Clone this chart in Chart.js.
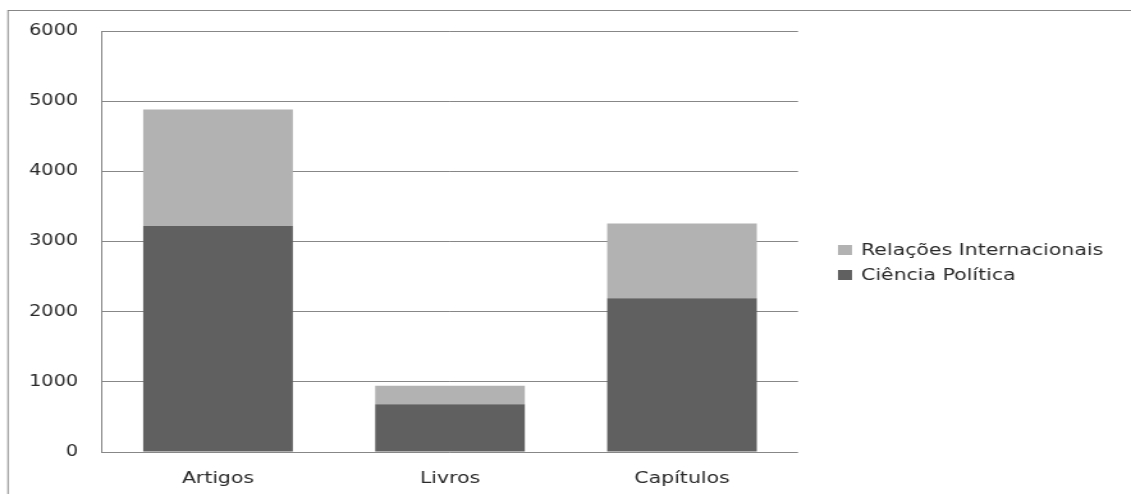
<!DOCTYPE html>
<html>
<head>
<meta charset="utf-8">
<script src="https://cdn.jsdelivr.net/npm/chart.js@4.4.1/dist/chart.umd.min.js"></script>
<style>
  html, body { margin: 0; padding: 0; background: #ffffff; }
  #wrap { width: 1131px; height: 494px; overflow: hidden; }
</style>
</head>
<body>
<div id="wrap">
  <!-- drawn narrow and widened horizontally by CSS, like a stretched office chart -->
  <canvas id="chart" width="884" height="494" style="width:1131px;height:494px;"></canvas>
</div>
<script>
// Publication counts by type
const categories = ['Artigos', 'Livros', 'Capítulos'];
const cienciaPolitica = [3220, 680, 2190];
const relacoesInternacionais = [1660, 265, 1068];
const seriesNames = ['Ciência Política', 'Relações Internacionais'];
const yTicks = [0, 1000, 2000, 3000, 4000, 5000, 6000];

const STRETCH = 1131 / 884;
const px = x => x / STRETCH;   // page x -> canvas x

const GRID = '#878787';
const TEXT = '#2a2a2a';
const FONT = 'DejaVu Sans';
const FONT_SIZE = 16;

Chart.defaults.font.family = FONT;
Chart.defaults.font.size = FONT_SIZE;
Chart.defaults.color = TEXT;

// outer frame around the chart object
const framePlugin = {
  id: 'frame',
  beforeDraw(chart) {
    const ctx = chart.ctx;
    ctx.save();
    ctx.fillStyle = '#ffffff';
    ctx.fillRect(0, 0, chart.width, chart.height);
    ctx.strokeStyle = GRID;
    ctx.lineWidth = 1;
    ctx.strokeRect(px(8), 10.5, chart.width + 20, chart.height + 20);
    ctx.restore();
  }
};

// legend on the right, top series first
const sideLegend = {
  id: 'sideLegend',
  afterDraw(chart) {
    const ctx = chart.ctx;
    const ds = chart.data.datasets.slice().reverse();
    const rows = [250, 275];
    ctx.save();
    ctx.font = FONT_SIZE + 'px "' + FONT + '"';
    ctx.textBaseline = 'middle';
    ctx.textAlign = 'left';
    ds.forEach((d, i) => {
      const y = rows[i];
      ctx.fillStyle = d.backgroundColor;
      ctx.fillRect(px(838), y - 5, px(852) - px(838), 10);
      ctx.fillStyle = TEXT;
      ctx.fillText(d.label, px(861), y + 1);
    });
    ctx.restore();
  }
};

new Chart(document.getElementById('chart'), {
  type: 'bar',
  data: {
    labels: categories,
    datasets: [
      { label: seriesNames[0], data: cienciaPolitica, backgroundColor: '#606060',
        barPercentage: 0.645, categoryPercentage: 1 },
      { label: seriesNames[1], data: relacoesInternacionais, backgroundColor: '#b2b2b2',
        barPercentage: 0.645, categoryPercentage: 1 }
    ]
  },
  options: {
    responsive: false,
    animation: false,
    events: [],
    layout: { padding: { left: 0, right: 884 - px(798), top: 31, bottom: 0 } },
    plugins: { legend: { display: false }, tooltip: { enabled: false } },
    scales: {
      x: {
        stacked: true,
        grid: { display: false, drawTicks: false },
        border: { display: false },
        ticks: { padding: 17, color: TEXT, font: { size: FONT_SIZE } },
        afterFit(scale) { scale.height = 494 - 452; }
      },
      y: {
        stacked: true,
        min: yTicks[0],
        max: yTicks[yTicks.length - 1],
        afterBuildTicks(scale) { scale.ticks = yTicks.map(v => ({ value: v })); },
        grid: { color: GRID, lineWidth: 1, drawTicks: false },
        border: { display: true, color: GRID, width: 1 },
        ticks: { padding: px(24), color: TEXT, font: { size: 15 },
                 callback: v => String(v) },
        afterFit(scale) { scale.width = px(102); }
      }
    }
  },
  plugins: [framePlugin, sideLegend]
});
</script>
</body>
</html>
